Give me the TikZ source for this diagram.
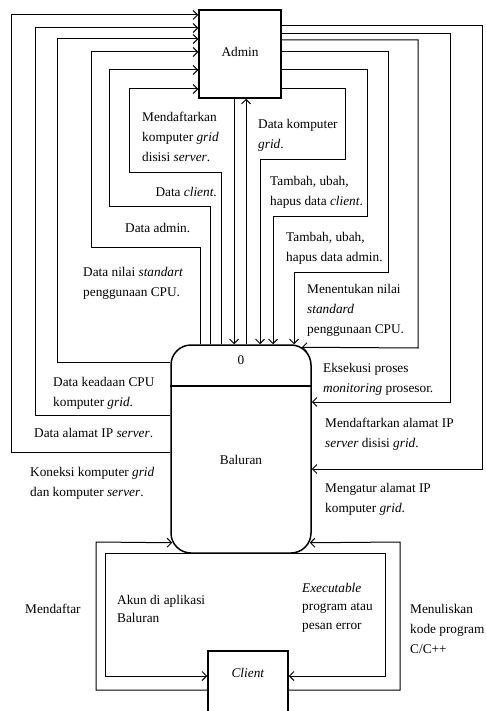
\documentclass[tikz,border=0pt]{standalone}
\usepackage{fontspec}
\setmainfont{Liberation Serif}
\usepackage{tikz}
\usetikzlibrary{arrows.meta,positioning,calc}

\tikzset{
	flow/.style={draw, line width=1pt, -{Straight Barb[length=4.5pt,width=9pt]}},
	entity/.style={draw, line width=1.5pt, inner sep=0pt, font=\fontsize{13.3}{20}\selectfont},
	lbl/.style={anchor=north west, inner sep=0pt, align=left, font=\fontsize{13.3}{20}\selectfont},
	lbltight/.style={lbl, font=\fontsize{13.3}{18.5}\selectfont},
}

\begin{document}
\begin{tikzpicture}[x=1pt, y=-1pt]
	\useasboundingbox (0,0) rectangle (485,711);
	% entities and process
	\node[entity, minimum width=82pt, minimum height=88pt] (Admin) at (240,54) {\raisebox{5pt}{Admin}};
	\node[entity, rounded corners=20pt, minimum width=140pt, minimum height=208pt] (Baluran) at (241,449) {};
	\node[entity, minimum width=80pt, minimum height=90pt, anchor=north] (Client) at (248,650) {};
	\node[entity, draw=none, below=11pt of Baluran.north] (BaluranNo) {0};
	\node[entity, draw=none] (BaluranName) at (241,460) {Baluran};
	\node[entity, draw=none, below=18pt of Client.north] (ClientName) {\textit{Client}};
	\draw[line width=1.5pt] (Baluran.west |- 0,386) -- (Baluran.east |- 0,386);

	% Baluran -> Admin
	\draw[flow] (Baluran.west |- 0,452) -| (11,15) -- (Admin.west |- 0,15);
	\draw[flow] (Baluran.west |- 0,415) -| (35,28) -- (Admin.west |- 0,28);
	\draw[flow] (Baluran.west |- 0,362) -| (57,39) -- (Admin.west |- 0,39);
	\draw[flow] (Baluran.north -| 200,0) |- (91,247) |- (Admin.west |- 0,52);
	\draw[flow] (Baluran.north -| 210,0) |- (109,207) |- (Admin.west |- 0,70);
	\draw[flow] (Baluran.north -| 221,0) |- (129,173) |- (Admin.west |- 0,89);
	\draw[flow] (Baluran.north -| 246,0) -- (Admin.south -| 246,0);

	% Admin -> Baluran
	\draw[flow] (Admin.south -| 234,0) -- (Baluran.north -| 234,0);
	\draw[flow] (Admin.east |- 0,89) -| (345,160) -| (Baluran.north -| 260,0);
	\draw[flow] (Admin.east |- 0,70) -| (367,217) -| (Baluran.north -| 273,0);
	\draw[flow] (Admin.east |- 0,52) -| (388,272) -| (Baluran.north -| 294,0);
	\draw[flow] (Admin.east |- 0,40) -| (418,348) -- ($(Baluran.north east)+(-10,3)$);
	\draw[flow] (Admin.east |- 0,34) -| (450,402) -- (Baluran.east |- 0,402);
	\draw[flow] (Admin.east |- 0,26) -| (482,469) -- (Baluran.east |- 0,469);

	% Client <-> Baluran
	\draw[flow] (Client.west |- 0,690) -| (96,542) -- ($(Baluran.south west)+(2,-11)$);
	\draw[flow] (Client.east |- 0,690) -| (400,542) -- ($(Baluran.south east)+(-2,-11)$);
	\draw[flow] (Baluran.south) -| (105,676) -- (Client.west |- 0,676);
	\draw[flow] (Baluran.south) -| (385,676) -- (Client.east |- 0,676);

	% labels, left
	\node[lbl] (tDaftarGrid) at (142,112) {Mendaftarkan\\komputer \textit{grid}\\disisi \textit{server}.};
	\node[lbl, anchor=north east] (tDataClient) at (217,187) {Data \textit{client}.};
	\node[lbl] (tDataAdmin) at (125,223) {Data admin.};
	\node[lbl] (tNilaiStd) at (83,267) {Data nilai \textit{standart}\\penggunaan CPU.};
	\node[lbl] (tKeadaan) at (53,377) {Data keadaan CPU\\komputer \textit{grid}.};
	\node[lbl] (tAlamatIP) at (34,428) {Data alamat IP \textit{server}.};
	\node[lbl] (tKoneksi) at (30,467) {Koneksi komputer \textit{grid}\\dan komputer \textit{server}.};
	% labels, right
	\node[lbl] (tKomputer) at (258,119) {Data komputer\\\textit{grid}.};
	\node[lbl] (tUbahClient) at (270,176) {Tambah, ubah,\\hapus data \textit{client}.};
	\node[lbl] (tUbahAdmin) at (286,232) {Tambah, ubah,\\hapus data admin.};
	\node[lbl] (tTentukan) at (307,284) {Menentukan nilai\\\textit{standard}\\penggunaan CPU.};
	\node[lbl] (tEksekusi) at (323,363) {Eksekusi proses\\\textit{monitoring} prosesor.};
	\node[lbl] (tDaftarIP) at (325,418) {Mendaftarkan alamat IP\\\textit{server} disisi \textit{grid}.};
	\node[lbl] (tAturIP) at (325,483) {Mengatur alamat IP\\komputer \textit{grid}.};
	% labels, bottom
	\node[lbl] (tMendaftar) at (25,604) {Mendaftar};
	\node[lbltight] (tAkun) at (117,595) {Akun di aplikasi\\Baluran};
	\node[lbltight] (tExec) at (302,583) {\textit{Executable}\\program atau\\pesan error};
	\node[lbl] (tKode) at (410,604) {Menuliskan\\kode program\\C/C++};
\end{tikzpicture}
\end{document}
